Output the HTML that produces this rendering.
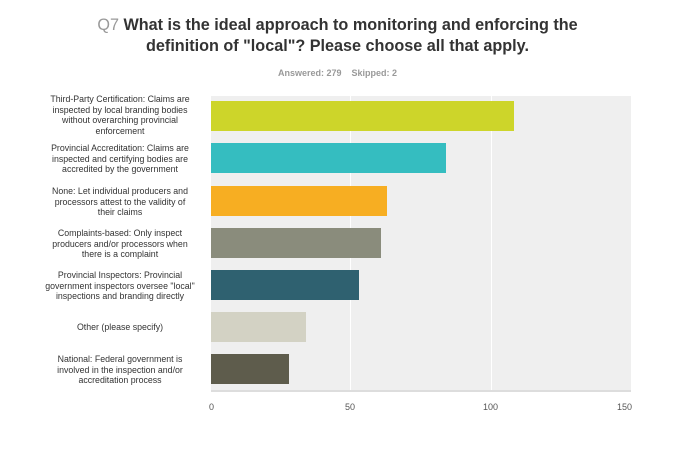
<!DOCTYPE html><html><head><style>
body{margin:0;width:675px;height:450px;background:#fff;font-family:"Liberation Sans",Arial,sans-serif;position:relative;overflow:hidden}
.t{position:absolute;left:0;width:675px;text-align:center;font-size:16.2px;font-weight:bold;color:#333}
.lab{position:absolute;left:45px;width:150px;text-align:center;font-size:8.8px;line-height:10.5px;color:#333}
.bar{position:absolute;left:211px;height:30px}
.tk{position:absolute;top:402px;font-size:9px;color:#555}
</style></head><body>
<div class="t" style="top:16px"><span style="color:#999;font-weight:normal">Q7</span> What is the ideal approach to monitoring and enforcing the</div>
<div class="t" style="top:37px">definition of "local"? Please choose all that apply.</div>
<div style="position:absolute;top:68px;left:0;width:675px;text-align:center;font-size:9px;color:#999;font-weight:bold">Answered: 279&nbsp;&nbsp;&nbsp;&nbsp;Skipped: 2</div>
<div style="position:absolute;left:211px;top:96px;width:420px;height:294px;background:#efefef"></div>
<div style="position:absolute;left:350px;top:96px;width:1px;height:294px;background:#fff"></div>
<div style="position:absolute;left:491px;top:96px;width:1px;height:294px;background:#fff"></div>
<div style="position:absolute;left:211px;top:390px;width:420px;height:2px;background:#ddd"></div>
<div class="bar" style="top:101px;width:303px;background:#cdd52a"></div>
<div class="bar" style="top:143px;width:235px;background:#35bdc0"></div>
<div class="bar" style="top:186px;width:176px;background:#f7ae22"></div>
<div class="bar" style="top:228px;width:170px;background:#8a8c7c"></div>
<div class="bar" style="top:270px;width:148px;background:#2f6170"></div>
<div class="bar" style="top:312px;width:95px;background:#d3d2c4"></div>
<div class="bar" style="top:354px;width:78px;background:#5e5c4c"></div>
<div class="lab" style="top:94px">Third-Party Certification: Claims are inspected by local branding bodies without overarching provincial enforcement</div>
<div class="lab" style="top:143px">Provincial Accreditation: Claims are inspected and certifying bodies are accredited by the government</div>
<div class="lab" style="top:186px">None: Let individual producers and processors attest to the validity of their claims</div>
<div class="lab" style="top:228px">Complaints-based: Only inspect producers and/or processors when there is a complaint</div>
<div class="lab" style="top:270px">Provincial Inspectors: Provincial government inspectors oversee "local" inspections and branding directly</div>
<div class="lab" style="top:322px">Other (please specify)</div>
<div class="lab" style="top:354px">National: Federal government is involved in the inspection and/or accreditation process</div>
<div class="tk" style="left:209px">0</div>
<div class="tk" style="left:345px">50</div>
<div class="tk" style="left:483px">100</div>
<div class="tk" style="left:617px">150</div>
</body></html>
